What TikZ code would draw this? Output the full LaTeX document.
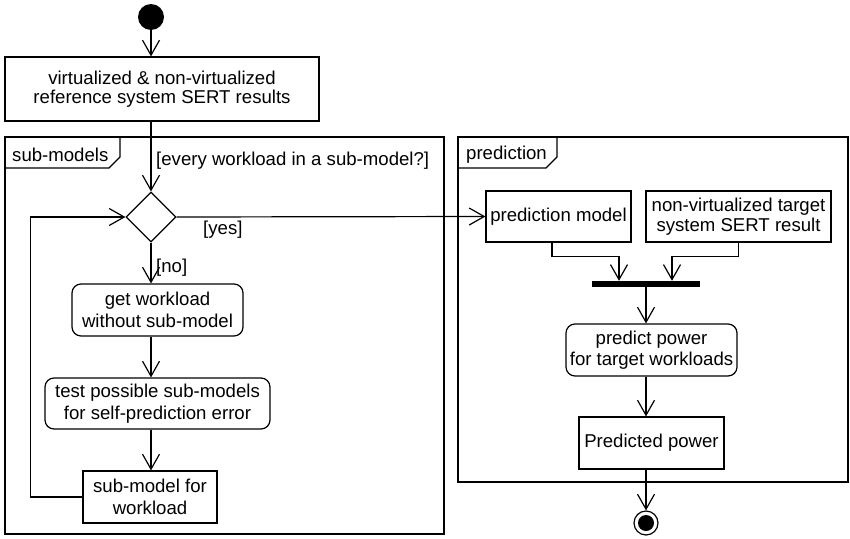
\documentclass[tikz,border=0pt]{standalone}
\usepackage{fontspec}
\setmainfont{Liberation Sans}
\usetikzlibrary{arrows.meta,shapes.geometric}

\tikzset{
  every picture/.style={x=1pt,y=-1pt},
  lbl/.style={font=\fontsize{18.6}{21.5}\selectfont, inner sep=0pt},
  action/.style={draw, line width=1.2pt, align=center, inner sep=1pt,
    font=\fontsize{18.6}{21.5}\selectfont},
  roundact/.style={action, rounded corners=9pt},
  flow/.style={draw, line width=1.2pt, -{Straight Barb[length=15pt,width=17pt,line width=1.2pt]}},
  line/.style={draw, line width=1.2pt},
}

\begin{document}
\begin{tikzpicture}
\useasboundingbox (0,0) rectangle (850,538);

% frames
\draw[line] (5,137) rectangle (444,534);
\draw[line] (5,168) -- (109,168) -- (120,157) -- (120,137);
\node[lbl, anchor=west] (subtitle) at (12,155) {sub-models};

\draw[line] (458,137) rectangle (848,482);
\draw[line] (458,168) -- (546,168) -- (557,157) -- (557,137);
\node[lbl, anchor=west] (predtitle) at (466,155) {prediction};

% initial node
\node[circle, fill=black, minimum size=26pt, inner sep=0pt] (start) at (151,17) {};

% reference results
\node[action, minimum width=314pt, minimum height=64pt,
      font=\fontsize{18.6}{18.5}\selectfont] (ref) at (162,89)
  {virtualized \& non-virtualized\\reference system SERT results};

% decision
\node[diamond, draw, line width=1.2pt, minimum width=50pt, minimum height=50pt, inner sep=0pt] (dec) at (151,217) {};

% sub-model loop
\node[roundact, minimum width=171pt, minimum height=52pt] (getw) at (157.5,310)
  {get workload\\without sub-model};
\node[roundact, minimum width=225pt, minimum height=51pt] (test) at (157.5,403.5)
  {test possible sub-models\\for self-prediction error};
\node[action, minimum width=134pt, minimum height=52pt] (subm) at (150,497)
  {sub-model for\\workload};

% prediction side
\node[action, minimum width=145pt, minimum height=51pt] (pmodel) at (558.5,216.5)
  {prediction model};
\node[action, minimum width=185pt, minimum height=51pt,
      font=\fontsize{18.6}{20}\selectfont] (target) at (738.5,216.5)
  {non-virtualized target\\system SERT result};
\node[fill=black, minimum width=108pt, minimum height=6pt, inner sep=0pt] (bar) at (646,284) {};
\node[roundact, minimum width=171pt, minimum height=52pt] (ppow) at (651.5,350)
  {predict power\\for target workloads};
\node[action, minimum width=145pt, minimum height=52pt] (predicted) at (651.5,443)
  {Predicted power};

% final node
\node[circle, draw, line width=1.2pt, minimum size=24pt, inner sep=0pt] (final) at (646,523) {};
\node[circle, fill=black, minimum size=16pt, inner sep=0pt] (finaldot) at (final.center) {};

% connectors
\draw[flow] (start.south) -- (start.south |- ref.north);
\draw[flow] (dec.north |- ref.south) -- (dec.north);
\draw[flow] (dec.south) -- (dec.south |- getw.north);
\draw[flow] (dec.south |- getw.south) -- (dec.south |- test.north);
\draw[flow] (dec.south |- test.south) -- (dec.south |- subm.north);
\draw[flow] (subm.west) -- ++(-52,0) |- (dec.west);
\draw[flow] (dec.east) -- (pmodel.west);

\draw[flow] ([xshift=-6.5pt]pmodel.south) -- ++(0,14) -| ([xshift=-27pt]bar.north);
\draw[flow] (target.south) -- ++(0,14) -| ([xshift=26pt]bar.north);
\draw[flow] (bar.south) -- (bar.south |- ppow.north);
\draw[flow] (bar.south |- ppow.south) -- (bar.south |- predicted.north);
\draw[flow] (bar.south |- predicted.south) -- (final.north);

% guards
\node[lbl, anchor=west] (gevery) at (156,161) {[every workload in a sub-model?]};
\node[lbl, anchor=west] (gyes) at (203,230) {[yes]};
\node[lbl, anchor=west] (gno) at (156,268) {[no]};
\end{tikzpicture}
\end{document}
